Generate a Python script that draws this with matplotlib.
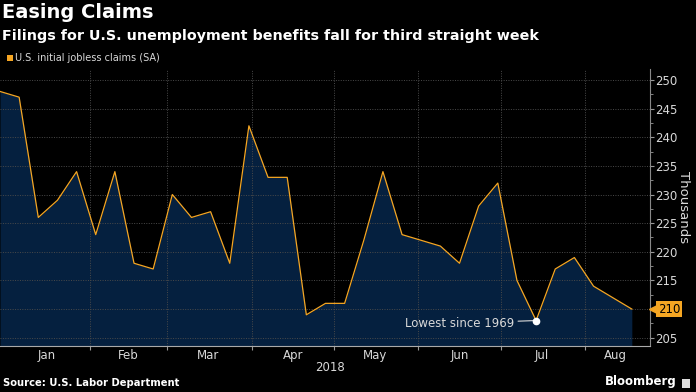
import numpy as np
import pandas as pd
import matplotlib
matplotlib.use("Agg")
import matplotlib.pyplot as plt
from matplotlib.ticker import MultipleLocator, FuncFormatter

# weekly initial jobless claims, thousands (week ending dates)
weeks = pd.date_range("2017-12-30", periods=34, freq="7D")
claims = [248, 247, 226, 229, 234, 223, 234, 218, 217, 230, 226, 227, 218, 242,
          233, 233, 209, 211, 211, 222, 234, 223, 222, 221, 218, 228, 232, 215,
          208, 217, 219, 214, 212, 210]
month_starts = pd.to_datetime(["2018-02-01", "2018-03-01", "2018-04-01", "2018-05-01",
                               "2018-06-01", "2018-07-01", "2018-08-01"])
month_mids = pd.to_datetime(["2018-01-16", "2018-02-15", "2018-03-16", "2018-04-16",
                             "2018-05-16", "2018-06-16", "2018-07-16", "2018-08-12"])
month_labels = ["Jan", "Feb", "Mar", "Apr", "May", "Jun", "Jul", "Aug"]
low_idx = 28
last_val = claims[-1]

bg = "#000000"
orange = "#f5a623"
fill = "#05203f"
txt = "#d9d9d9"
grid = "#4a4a4a"
ymin, ymax = 203.55, 251.92

fig = plt.figure(figsize=(6.96, 3.92), dpi=100, facecolor=bg)
ax = fig.add_axes([0.0, 0.1173, 0.934, 0.7067], facecolor=bg)

ax.fill_between(weeks, claims, 200, color=fill, lw=0, zorder=1)
ax.plot(weeks, claims, color=orange, lw=0.9, zorder=3)

ax.set_xlim(pd.Timestamp("2017-12-30"), pd.Timestamp("2018-08-24 16:00"))
ax.set_ylim(ymin, ymax)

# y axis on the right, last value shown in the tag instead
ax.yaxis.tick_right()
ax.yaxis.set_label_position("right")
ax.yaxis.set_major_locator(MultipleLocator(5))
ax.yaxis.set_minor_locator(MultipleLocator(2.5))
ax.yaxis.set_major_formatter(FuncFormatter(lambda v, p: "" if round(v) == last_val else f"{v:.0f}"))
ax.tick_params(axis="y", which="major", colors="#999999", labelcolor=txt,
               labelsize=8.5, length=3, width=0.8, pad=1)
ax.tick_params(axis="y", which="minor", colors="#999999", length=2, width=0.6)
ax.set_ylabel("Thousands", color=txt, fontsize=9.5, rotation=270, labelpad=9)

# x axis: ticks at month boundaries, labels mid-month
ax.set_xticks(month_starts)
ax.set_xticklabels([])
ax.set_xticks(month_mids, minor=True)
ax.set_xticklabels(month_labels, minor=True)
ax.tick_params(axis="x", which="major", colors="#999999", length=3, width=0.8)
ax.tick_params(axis="x", which="minor", length=0, labelcolor=txt, labelsize=8.5, pad=2)

ax.grid(True, which="major", color=grid, ls=(0, (1, 1.5)), lw=0.7, zorder=2)

for side in ["top", "left"]:
    ax.spines[side].set_visible(False)
ax.spines["bottom"].set_color("#aaaaaa")
ax.spines["right"].set_color("#888888")
ax.spines["bottom"].set_zorder(4)

# last value tag
tag_y = (last_val - ymin) / (ymax - ymin)
ax.text(1.012, tag_y, str(last_val), transform=ax.transAxes, ha="left", va="center",
        fontsize=8.5, color="black",
        bbox=dict(boxstyle="square,pad=0.15", fc=orange, ec="none"), zorder=6,
        clip_on=False)
ax.plot([1.006], [tag_y], marker="<", ms=7, color=orange, transform=ax.transAxes,
        clip_on=False, zorder=6)

# low annotation
ax.plot(weeks[low_idx], claims[low_idx], "o", color="white", ms=4.5, zorder=5)
ax.annotate("Lowest since 1969", xy=(weeks[low_idx], claims[low_idx]),
            xytext=(-16, -2), textcoords="offset points", ha="right", va="center",
            color=txt, fontsize=8.5,
            arrowprops=dict(arrowstyle="-", color=txt, lw=0.8, shrinkA=1, shrinkB=2))

ax.text(0.508, -0.079, "2018", transform=ax.transAxes, ha="center", va="center",
        color=txt, fontsize=8.5)

# titles and footer
fig.text(0.003, 0.992, "Easing Claims", color="white", fontsize=14, fontweight="bold",
         ha="left", va="top")
fig.text(0.003, 0.925, "Filings for U.S. unemployment benefits fall for third straight week",
         color="white", fontsize=10.3, fontweight="bold", ha="left", va="top")
fig.patches.append(plt.Rectangle((7 / 696, 1 - 61 / 392), 6 / 696, 6 / 392,
                                 transform=fig.transFigure, fc=orange, ec="none"))
fig.text(15 / 696, 1 - 58 / 392, "U.S. initial jobless claims (SA)", color=txt,
         fontsize=7, ha="left", va="center")
fig.text(0.004, 0.024, "Source: U.S. Labor Department", color="white", fontsize=7.2,
         fontweight="bold", ha="left", va="center")
fig.text(0.972, 0.026, "Bloomberg", color="white", fontsize=8.5, fontweight="bold",
         ha="right", va="center")
fig.patches.append(plt.Rectangle((682 / 696, 1 - 388 / 392), 8 / 696, 9 / 392,
                                 transform=fig.transFigure, fc="#dddddd", ec="none"))

fig.savefig("out.png", dpi=100, facecolor=bg)
